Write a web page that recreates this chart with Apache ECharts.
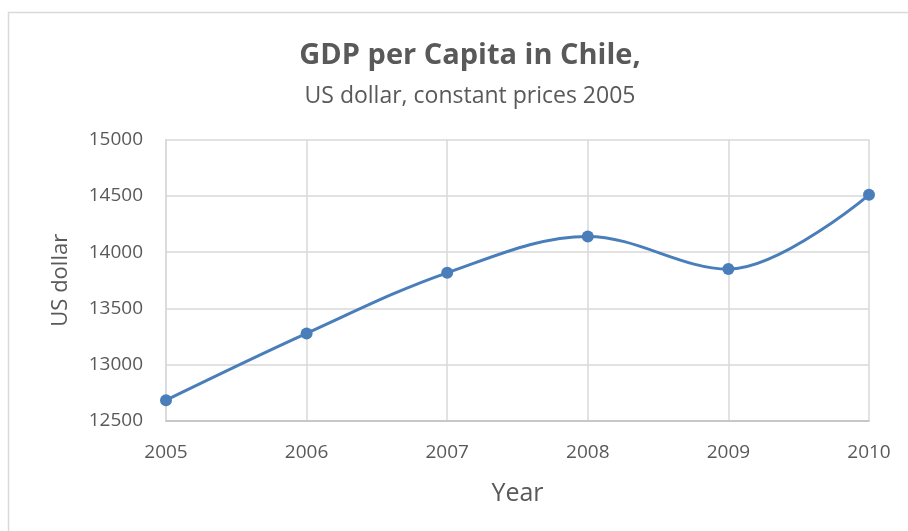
<!DOCTYPE html>
<html>
<head>
<meta charset="utf-8">
<script src="https://cdn.jsdelivr.net/npm/echarts@6/dist/echarts.min.js"></script>
<style>
html,body{margin:0;padding:0;background:#fff;}
#chart{width:908px;height:531px;}
</style>
</head>
<body>
<div id="chart"></div>
<script>
const years = ['2005','2006','2007','2008','2009','2010'];
const gdpPerCapita = [12685, 13278, 13816, 14139, 13849, 14509];
const yTicks = { min: 12500, max: 15000, interval: 500 };
const titleText = 'GDP per Capita in Chile,';
const subtitleText = 'US dollar, constant prices 2005';

const chart = echarts.init(document.getElementById('chart'), null, {renderer:'canvas'});
const font = '"Open Sans", Lato, sans-serif';
chart.setOption({
  animation: false,
  backgroundColor: '#fff',
  graphic: [{
    type: 'rect', shape: {x: 8.5, y: 12.5, width: 920, height: 540},
    style: {fill: 'none', stroke: '#d9d9d9', lineWidth: 1.5}, silent: true
  }],
  title: [{
    text: titleText,
    left: 465, textAlign: 'center', top: 36,
    textStyle: {fontFamily: font, fontWeight: 'bold', fontSize: 29, color: '#595959'}
  }, {
    text: subtitleText,
    left: 465, textAlign: 'center', top: 80,
    textStyle: {fontFamily: font, fontWeight: 'normal', fontSize: 23, color: '#595959'}
  }],
  grid: {left: 166, right: 39, top: 139.5, bottom: 110},
  xAxis: {
    type: 'category', data: years, boundaryGap: false,
    name: 'Year', nameLocation: 'middle', nameGap: 60,
    nameTextStyle: {fontFamily: font, fontSize: 25, color: '#595959'},
    axisLine: {lineStyle: {color: '#bfbfbf', width: 1.5}},
    axisTick: {show: false},
    axisLabel: {fontFamily: font, fontSize: 19, color: '#595959', margin: 22},
    splitLine: {show: true, lineStyle: {color: '#d9d9d9', width: 1.5}}
  },
  yAxis: {
    type: 'value', min: yTicks.min, max: yTicks.max, interval: yTicks.interval,
    name: 'US dollar', nameLocation: 'middle', nameGap: 94, nameRotate: 90,
    nameTextStyle: {fontFamily: font, fontSize: 22, color: '#595959'},
    axisLine: {show: true, lineStyle: {color: '#d9d9d9', width: 1.5}},
    axisTick: {show: false},
    axisLabel: {fontFamily: font, fontSize: 19, color: '#595959', margin: 23,
      formatter: v => String(v)},
    splitLine: {show: true, lineStyle: {color: '#d9d9d9', width: 1.5}}
  },
  series: [{
    type: 'line', data: gdpPerCapita, smooth: 0.35,
    symbol: 'circle', symbolSize: 12,
    lineStyle: {color: '#4a7ebb', width: 3},
    itemStyle: {color: '#4a7ebb'}
  }]
});
</script>
</body>
</html>
